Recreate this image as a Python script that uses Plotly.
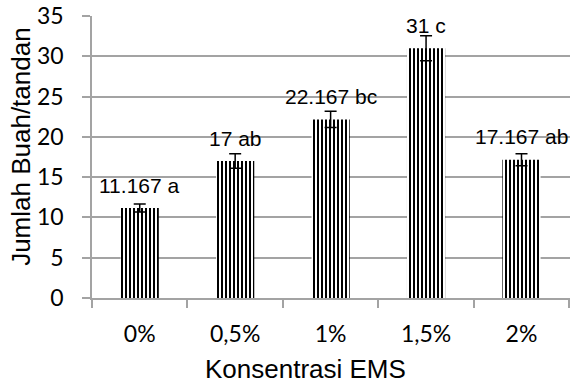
import plotly.graph_objects as go

# Fruit count per bunch at each EMS concentration
konsentrasi = ["0%", "0,5%", "1%", "1,5%", "2%"]
jumlah = [11.167, 17, 22.167, 31, 17.167]
galat = [0.5, 0.9, 1.0, 1.55, 0.75]
notasi = ["a", "ab", "bc", "c", "ab"]

AXIS_GRAY = "#a3a3a3"
TEXT_FONT = "Liberation Sans, Arial"
TICK_FONT = "Lato, Carlito, Calibri"

fig = go.Figure()
fig.add_trace(go.Bar(
    x=konsentrasi,
    y=jumlah,
    marker=dict(
        color="white",
        line=dict(width=0),
        pattern=dict(shape="|", fgcolor="black", bgcolor="white",
                     size=4, solidity=0.5, fillmode="replace"),
    ),
    error_y=dict(type="data", array=galat, visible=True,
                 color="black", thickness=1.5, width=6),
    showlegend=False,
))

# value + letter labels above each bar
for k, v, n in zip(konsentrasi, jumlah, notasi):
    fig.add_annotation(x=k, y=v, text=f"{v:g} {n}", showarrow=False,
                       yanchor="middle", yshift=23,
                       font=dict(family=TEXT_FONT, size=21, color="black"))

# axis titles
fig.add_annotation(xref="paper", yref="paper", x=0.447, y=-0.252,
                   text="Konsentrasi EMS", showarrow=False,
                   xanchor="center", yanchor="middle",
                   font=dict(family=TEXT_FONT, size=26, color="black"))
fig.add_annotation(xref="paper", yref="paper", x=-0.15, y=0.537,
                   text="Jumlah Buah/tandan", showarrow=False, textangle=-90,
                   xanchor="center", yanchor="middle",
                   font=dict(family=TEXT_FONT, size=26, color="black"))

fig.update_layout(
    width=571, height=385,
    margin=dict(l=92, r=1, t=16, b=87),
    paper_bgcolor="white", plot_bgcolor="white",
    bargap=0.6,
    font=dict(family=TEXT_FONT, color="black"),
)
fig.update_xaxes(
    showline=True, linecolor=AXIS_GRAY, linewidth=1.5,
    ticks="outside", ticklen=8, tickcolor=AXIS_GRAY, tickwidth=1.5,
    tickson="boundaries", ticklabelstandoff=15,
    tickfont=dict(family=TICK_FONT, size=23, color="black"),
    showgrid=False,
)
fig.update_yaxes(
    range=[0, 35], dtick=5,
    showline=True, linecolor=AXIS_GRAY, linewidth=1.5,
    ticks="outside", ticklen=8, tickcolor=AXIS_GRAY, tickwidth=1.5,
    ticklabelstandoff=14,
    showgrid=True, gridcolor=AXIS_GRAY, gridwidth=1.5,
    zeroline=False,
    tickfont=dict(family=TICK_FONT, size=23, color="black"),
)

fig.write_html("out.html")
